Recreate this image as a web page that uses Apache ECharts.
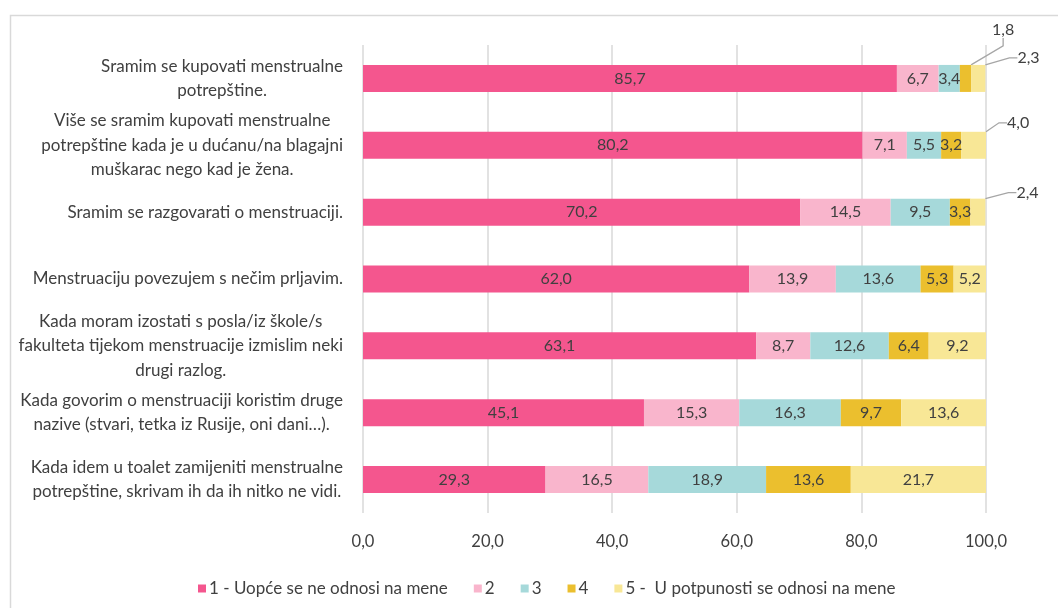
<!DOCTYPE html>
<html>
<head>
<meta charset="utf-8">
<script src="https://cdn.jsdelivr.net/npm/echarts@6/dist/echarts.min.js"></script>
<style>html,body{margin:0;padding:0;background:#fff;}#c{width:1058px;height:608px;}</style>
</head>
<body>
<div id="c"></div>
<script>
var categories = [
  "Sramim se kupovati menstrualne\npotrepštine.",
  "Više se sramim kupovati menstrualne\npotrepštine kada je u dućanu/na blagajni\nmuškarac nego kad je žena.",
  "Sramim se razgovarati o menstruaciji.",
  "Menstruaciju povezujem s nečim prljavim.",
  "Kada moram izostati s posla/iz škole/s\nfakulteta tijekom menstruacije izmislim neki\ndrugi razlog.",
  "Kada govorim o menstruaciji koristim druge\nnazive (stvari, tetka iz Rusije, oni dani…).",
  "Kada idem u toalet zamijeniti menstrualne\npotrepštine, skrivam ih da ih nitko ne vidi."
];
var seriesNames = ["1 - Uopće se ne odnosi na mene", "2", "3", "4", "5 -  U potpunosti se odnosi na mene"];
var s1 = [85.7, 80.2, 70.2, 62.0, 63.1, 45.1, 29.3];
var s2 = [6.7, 7.1, 14.5, 13.9, 8.7, 15.3, 16.5];
var s3 = [3.4, 5.5, 9.5, 13.6, 12.6, 16.3, 18.9];
var s4 = [1.8, 3.2, 3.3, 5.3, 6.4, 9.7, 13.6];
var s5 = [2.3, 4.0, 2.4, 5.2, 9.2, 13.6, 21.7];
var xTicks = [0, 20, 40, 60, 80, 100];

var colors = ['#F4568E', '#F9B5CC', '#A6D9DA', '#EBBF2E', '#F8E796'];
// labels placed outside with leader lines: [seriesIndex, dataIndex, offsetRight, offsetUp]
var outsideLabels = [[3, 0, 21, 35], [4, 0, 32, 7], [4, 1, 21, 9], [4, 2, 31, 6]];

function fmt(v) { return v.toFixed(1).replace('.', ','); }
function findOutside(si, di) {
  for (var i = 0; i < outsideLabels.length; i++) {
    if (outsideLabels[i][0] === si && outsideLabels[i][1] === di) return outsideLabels[i];
  }
  return null;
}

var allData = [s1, s2, s3, s4, s5];
var font = 'Lato, "Open Sans", sans-serif';
var series = allData.map(function (arr, si) {
  return {
    name: seriesNames[si],
    type: 'bar',
    stack: 'total',
    barWidth: 27,
    itemStyle: { color: colors[si] },
    data: arr.map(function (v, di) {
      var o = findOutside(si, di);
      if (o) {
        return { value: v, label: { show: true, position: 'top' }, labelLine: { show: true } };
      }
      return v;
    }),
    label: {
      show: true,
      position: 'inside',
      color: '#404040',
      fontSize: 16,
      fontFamily: font,
      formatter: function (p) { return fmt(p.value); }
    },
    labelLine: { show: false, length2: 8, lineStyle: { color: '#A6A6A6', width: 1.3 } },
    labelLayout: function (p) {
      var o = findOutside(p.seriesIndex, p.dataIndex);
      if (!o) return {};
      return {
        x: p.rect.x + p.rect.width + o[2],
        y: p.rect.y - o[3],
        align: 'left',
        verticalAlign: 'middle'
      };
    }
  };
});

var chart = echarts.init(document.getElementById('c'));
chart.setOption({
  animation: false,
  color: colors,
  graphic: [{
    type: 'rect', left: 8, top: 13, silent: true,
    shape: { width: 1200, height: 800 },
    style: { fill: 'none', stroke: '#D9D9D9', lineWidth: 1.5 }
  }],
  grid: { left: 363, right: 72, top: 45, bottom: 95 },
  legend: {
    top: 580,
    left: 198,
    itemWidth: 8,
    itemHeight: 8,
    itemGap: 26,
    icon: 'rect',
    padding: 0,
    textStyle: { color: '#404040', fontSize: 17, fontFamily: font, padding: [0, 0, 0, -2] },
    data: seriesNames
  },
  xAxis: {
    type: 'value',
    min: xTicks[0],
    max: xTicks[xTicks.length - 1],
    interval: xTicks[1] - xTicks[0],
    axisLine: { show: false },
    axisTick: { show: false },
    splitLine: { lineStyle: { color: '#D9D9D9', width: 1.5 } },
    axisLabel: {
      color: '#404040', fontSize: 16.5, fontFamily: font, margin: 20,
      formatter: function (v) { return fmt(v); }
    }
  },
  yAxis: {
    type: 'category',
    inverse: true,
    data: categories,
    axisLine: { show: false },
    axisTick: { show: false },
    axisLabel: {
      margin: 20,
      align: 'right',
      formatter: function (v) {
        return v.split('\n').map(function (l) { return '{c|' + l + '}'; }).join('\n');
      },
      rich: {
        c: { align: 'center', color: '#404040', fontSize: 17, fontFamily: font, lineHeight: 24.5 }
      }
    }
  },
  series: series
});
</script>
</body>
</html>
